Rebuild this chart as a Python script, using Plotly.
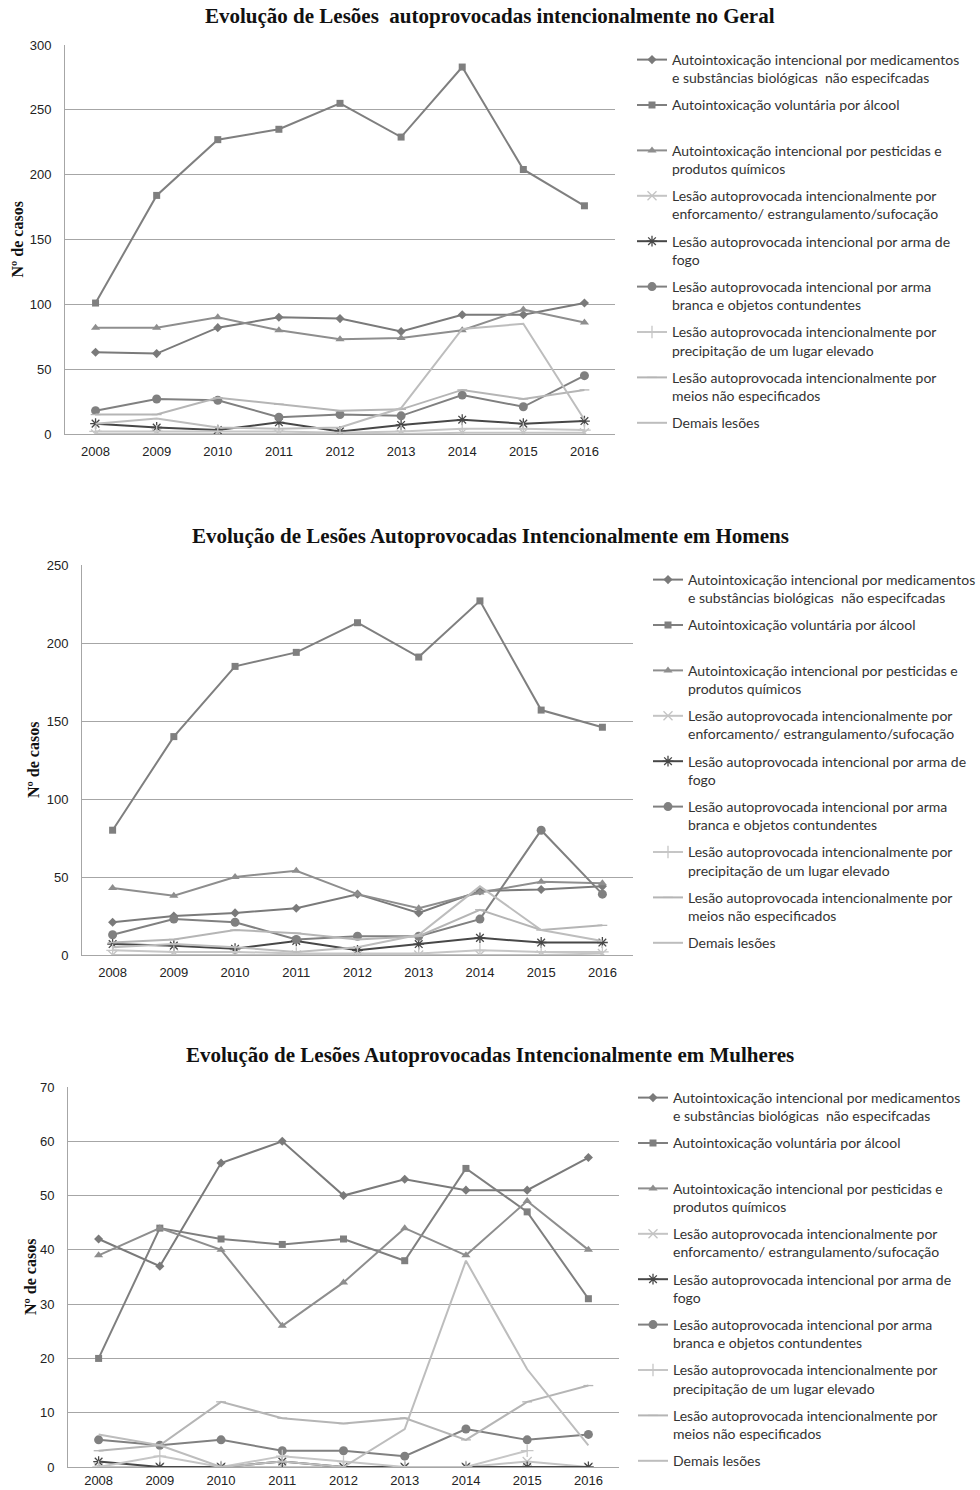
import plotly.graph_objects as go

years = [2008, 2009, 2010, 2011, 2012, 2013, 2014, 2015, 2016]

series_names = [
    "Autointoxicação intencional por medicamentos<br>e substâncias biológicas  não especifcadas",
    "Autointoxicação voluntária por álcool<br> ",
    "Autointoxicação intencional por pesticidas e<br>produtos químicos",
    "Lesão autoprovocada intencionalmente por<br>enforcamento/ estrangulamento/sufocação",
    "Lesão autoprovocada intencional por arma de<br>fogo",
    "Lesão autoprovocada intencional por arma<br>branca e objetos contundentes",
    "Lesão autoprovocada intencionalmente por<br>precipitação de um lugar elevado",
    "Lesão autoprovocada intencionalmente por<br>meios não especificados",
    "Demais lesões<br> ",
]

titles = [
    "Evolução de Lesões  autoprovocadas intencionalmente no Geral",
    "Evolução de Lesões Autoprovocadas Intencionalmente em Homens",
    "Evolução de Lesões Autoprovocadas Intencionalmente em Mulheres",
]

# ---- Geral ----
geral_medicamentos = [63, 62, 82, 90, 89, 79, 92, 92, 101]
geral_alcool = [101, 184, 227, 235, 255, 229, 283, 204, 176]
geral_pesticidas = [82, 82, 90, 80, 73, 74, 80, 96, 86]
geral_enforcamento = [0, 0, 0, 0, 0, 0, 1, 1, 1]
geral_arma_fogo = [8, 5, 3, 9, 2, 7, 11, 8, 10]
geral_arma_branca = [18, 27, 26, 13, 15, 14, 30, 21, 45]
geral_precipitacao = [2, 2, 2, 2, 1, 2, 4, 4, 3]
geral_meios = [15, 15, 28, 23, 18, 19, 34, 27, 34]
geral_demais = [8, 12, 5, 4, 5, 20, 81, 85, 11]

# ---- Homens ----
homens_medicamentos = [21, 25, 27, 30, 39, 27, 41, 42, 44]
homens_alcool = [80, 140, 185, 194, 213, 191, 227, 157, 146]
homens_pesticidas = [43, 38, 50, 54, 39, 30, 40, 47, 46]
homens_enforcamento = [0, 0, 0, 0, 0, 0, 0, 0, 1]
homens_arma_fogo = [7, 6, 4, 9, 3, 7, 11, 8, 8]
homens_arma_branca = [13, 23, 21, 10, 12, 12, 23, 80, 39]
homens_precipitacao = [3, 2, 2, 1, 1, 1, 3, 2, 2]
homens_meios = [8, 10, 16, 14, 10, 12, 29, 16, 19]
homens_demais = [5, 7, 5, 2, 5, 13, 44, 16, 9]

# ---- Mulheres ----
mulheres_medicamentos = [42, 37, 56, 60, 50, 53, 51, 51, 57]
mulheres_alcool = [20, 44, 42, 41, 42, 38, 55, 47, 31]
mulheres_pesticidas = [39, 44, 40, 26, 34, 44, 39, 49, 40]
mulheres_enforcamento = [0, 0, 0, 0, 0, 0, 0, 1, 0]
mulheres_arma_fogo = [1, 0, 0, 1, 0, 0, 0, 0, 0]
mulheres_arma_branca = [5, 4, 5, 3, 3, 2, 7, 5, 6]
mulheres_precipitacao = [0, 2, 0, 2, 1, 0, 0, 3, None]
mulheres_meios = [3, 4, 12, 9, 8, 9, 5, 12, 15]
mulheres_demais = [6, 4, 0, 1, 0, 7, 38, 18, 4]

datasets = [
    [geral_medicamentos, geral_alcool, geral_pesticidas, geral_enforcamento, geral_arma_fogo,
     geral_arma_branca, geral_precipitacao, geral_meios, geral_demais],
    [homens_medicamentos, homens_alcool, homens_pesticidas, homens_enforcamento, homens_arma_fogo,
     homens_arma_branca, homens_precipitacao, homens_meios, homens_demais],
    [mulheres_medicamentos, mulheres_alcool, mulheres_pesticidas, mulheres_enforcamento, mulheres_arma_fogo,
     mulheres_arma_branca, mulheres_precipitacao, mulheres_meios, mulheres_demais],
]

styles = [
    dict(color="#7a7a7a", symbol="diamond", size=7),
    dict(color="#7f7f7f", symbol="square", size=7),
    dict(color="#8e8e8e", symbol="triangle-up", size=8),
    dict(color="#c4c4c4", symbol="x-thin-open", size=9),
    dict(color="#474747", symbol="asterisk-open", size=9),
    dict(color="#808080", symbol="circle", size=9),
    dict(color="#c6c6c6", symbol="cross-thin-open", size=9),
    dict(color="#b5b5b5", symbol="line-ew-open", size=7),
    dict(color="#bdbdbd", symbol=None, size=0),
]

# the page body margin is removed (post_script below), so the figure fills the window
W, H = 980, 1490


def fx(px):
    return px / W


def fy(py):
    return 1 - py / H


# plot boxes in target page pixels: left, right, top, bottom
boxes = [(65, 615, 45, 434), (82, 633, 565, 955), (68, 619, 1087, 1467)]
yranges = [(300, 50), (250, 50), (70, 10)]
xlabel_standoff = [5, 5, 1]
legend_text_x = [672, 688, 673]
legend_first_line_y = [60, 580, 1098]
title_y = [16, 536, 1055]
ytitle_x = [17, 33, 30]

fig = go.Figure()
for c in range(3):
    sfx = "" if c == 0 else str(c + 1)
    leg = "legend" if c == 0 else "legend" + str(c + 1)
    for i in range(9):
        st = styles[i]
        mode = "lines" if st["symbol"] is None else "lines+markers"
        marker = dict(color=st["color"], size=st["size"])
        if st["symbol"] is not None:
            marker["symbol"] = st["symbol"]
            if "open" in st["symbol"]:
                marker["line"] = dict(color=st["color"], width=1.3)
        fig.add_trace(go.Scatter(
            x=years, y=datasets[c][i], name=series_names[i], mode=mode,
            line=dict(color=st["color"], width=2),
            marker=marker, xaxis="x" + sfx, yaxis="y" + sfx,
            legend=leg, legendgroup=f"c{c}s{i}", legendrank=i + 1,
            connectgaps=False,
        ))

layout = dict(
    width=W, height=H, margin=dict(l=0, r=0, t=0, b=0, autoexpand=False),
    paper_bgcolor="white", plot_bgcolor="white", showlegend=True,
)
annotations = []
for c in range(3):
    sfx = "" if c == 0 else str(c + 1)
    l, r, t, b = boxes[c]
    xa = "xaxis" + sfx
    ya = "yaxis" + sfx
    layout[xa] = dict(
        domain=[fx(l), fx(r)], anchor="y" + sfx, range=[2007.5, 2016.5],
        tickvals=years, ticktext=[str(y) for y in years], showgrid=False,
        showline=True, linecolor="#a6a6a6", linewidth=1, ticks="outside",
        ticklen=0, zeroline=False, ticklabelstandoff=xlabel_standoff[c], automargin=False,
        tickfont=dict(family="Liberation Sans", size=13, color="#222"),
    )
    top, dt = yranges[c]
    layout[ya] = dict(
        domain=[fy(b), fy(t)], anchor="x" + sfx, range=[0, top], dtick=dt,
        showgrid=True, gridcolor="#a6a6a6", gridwidth=1, showline=True,
        linecolor="#a6a6a6", linewidth=1, zeroline=False, ticks="outside", ticklen=0,
        ticklabelstandoff=10, automargin=False,
        tickfont=dict(family="Liberation Sans", size=13, color="#222"),
    )
    leg = "legend" if c == 0 else "legend" + str(c + 1)
    layout[leg] = dict(
        x=fx(legend_text_x[c] - 40), y=fy(legend_first_line_y[c] - 16),
        xanchor="left", yanchor="top",
        font=dict(family="Lato", size=14, color="#333"),
        tracegroupgap=6, valign="top", bgcolor="rgba(0,0,0,0)",
        itemwidth=30,
    )
    annotations.append(dict(
        text="<b>" + titles[c] + "</b>", x=0.5, y=fy(title_y[c]),
        xref="paper", yref="paper", showarrow=False, xanchor="center", yanchor="middle",
        font=dict(family="Liberation Serif", size=21, color="#111"),
    ))
    annotations.append(dict(
        text="<b>Nº de casos</b>", x=fx(ytitle_x[c]), y=fy((t + b) / 2),
        xref="paper", yref="paper", showarrow=False, textangle=-90,
        xanchor="center", yanchor="middle",
        font=dict(family="Liberation Serif", size=16, color="#111"),
    ))
layout["annotations"] = annotations
fig.update_layout(**layout)

fig.write_html(
    "out.html",
    config={"displayModeBar": False},
    post_script="document.body.style.margin='0';document.body.style.overflow='hidden';",
)
